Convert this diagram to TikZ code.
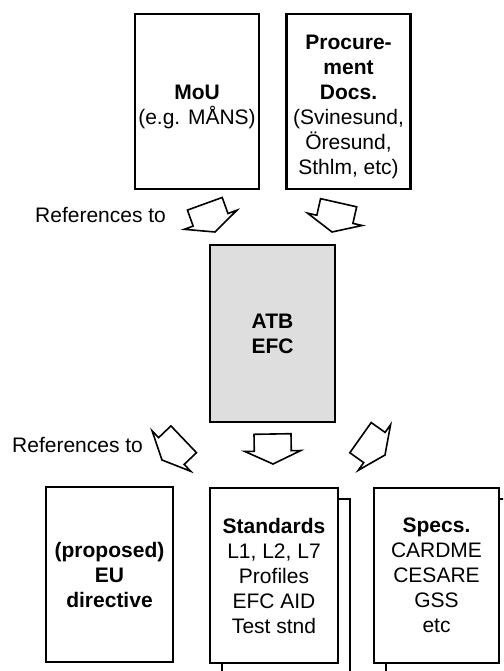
\documentclass[tikz,border=0pt]{standalone}
\usepackage{fontspec}
\setmainfont{Liberation Sans}
\usetikzlibrary{calc}
% block arrow from a tail point to a tip point
\newcommand\refarrow[2]{%
  \draw[refarrowline]
    ($($(#2)!30pt!(#1)$)!18.5pt!90:(#2)$)
    -- ($($(#2)!30pt!(#1)$)!18.5pt!-90:(#2)$)
    -- ($($(#2)!13pt!(#1)$)!18.5pt!-90:(#2)$)
    -- ($($(#2)!13pt!(#1)$)!28pt!-90:(#2)$)
    -- (#2)
    -- ($($(#2)!13pt!(#1)$)!28pt!90:(#2)$)
    -- ($($(#2)!13pt!(#1)$)!18.5pt!90:(#2)$)
    -- cycle;}
% taller first line, lowers a centred text block a little
\newcommand\lowerstrut{\rule{0pt}{25pt}}
\begin{document}
\begin{tikzpicture}[x=1pt,y=-1pt,
  txt/.style={font=\fontsize{21}{25}\selectfont},
  doc/.style={txt, draw=black, line width=2.4pt, fill=white, align=center,
    inner sep=0pt, minimum width=124pt, minimum height=175pt},
  shadowbox/.style={draw=black, line width=1.3pt, fill=white},
  lbl/.style={txt, inner sep=0pt, anchor=west},
  refarrowline/.style={draw=black, line width=1.6pt, line join=miter, fill=white}
]
\useasboundingbox (0,0) rectangle (503,671);
\clip (0,0) rectangle (503,671);

% top row of source documents
\node[doc] (mou) at (197,101.5) {\lowerstrut\textbf{MoU}\\(e.g. MÅNS)};
\node[doc] (proc) at (348.5,101.5) {\lowerstrut\textbf{Procure-}\\\textbf{ment}\\\textbf{Docs.}\\(Svinesund,\\Öresund,\\Sthlm, etc)};

% central document
\node[doc, fill=black!13, minimum width=125pt, minimum height=177pt] (atb) at (272.5,333.5) {\textbf{ATB}\\\textbf{EFC}};

% stacked pages behind the bottom documents
\draw[shadowbox] (222,499) rectangle (350,690);
\draw[shadowbox] (386,499) rectangle (520,690);

% bottom row of referenced documents
\node[doc, minimum width=127pt] (eu) at (109.5,574.5) {\textbf{(proposed)}\\\textbf{EU}\\\textbf{directive}};
\node[doc, minimum width=128pt] (std) at (274,575.5) {\textbf{Standards}\\L1, L2, L7\\Profiles\\EFC AID\\Test stnd};
\node[doc, minimum width=125pt] (specs) at (436.5,575.5) {\textbf{Specs.}\\CARDME\\CESARE\\GSS\\etc};

% tails and tips of the reference arrows
\coordinate (a1t) at (204.5,203); \coordinate (a1h) at (215,232);
\coordinate (a2t) at (339,201);   \coordinate (a2h) at (332,232);
\coordinate (a3t) at (184,439);   \coordinate (a3h) at (162,460);
\coordinate (a4t) at (272.5,434); \coordinate (a4h) at (273,464);
\coordinate (a5t) at (361,438);   \coordinate (a5h) at (385,455);

\refarrow{a1t}{a1h}
\refarrow{a2t}{a2h}
\refarrow{a3t}{a3h}
\refarrow{a4t}{a4h}
\refarrow{a5t}{a5h}

% labels
\node[lbl] (reftop) at (35,215) {References to};
\node[lbl] (refbot) at (12,445) {References to};
\end{tikzpicture}
\end{document}
